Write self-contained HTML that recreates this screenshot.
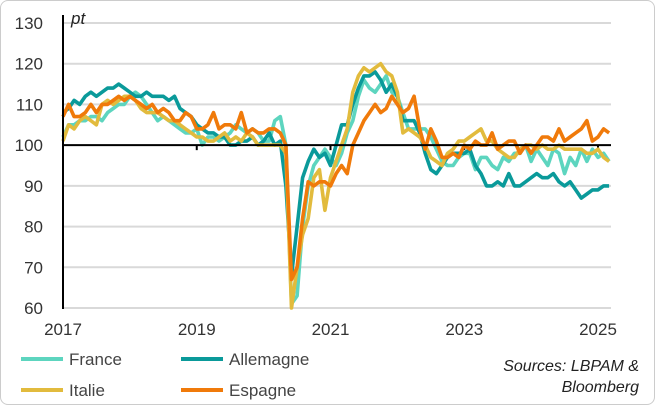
<!DOCTYPE html>
<html><head><meta charset="utf-8"><style>
body{margin:0;background:#fff}
#wrap{position:relative;width:653px;height:403px;border:1px solid #ccc;border-radius:8px;overflow:hidden;font-family:"Liberation Sans",sans-serif}
svg text{font-family:"Liberation Sans",sans-serif}
</style></head><body>
<div id="wrap">
<svg id="chart" width="655" height="405"></svg>
</div>
<script>
const yTicks=[60,70,80,90,100,110,120,130];
const xTickLabels=["2017","2019","2021","2023","2025"];
const france=[102,105,105,106,106,107,107,106,108,109,110,110,
112,113,112,110,108,106,107,106,105,104,103,103,
104,100,102,102,101,102,103,105,104,103,104,103,
101,101,106,107,100,61,63,80,90,95,97,99,
97,95,98,103,106,112,116,114,113,115,117,113,
112,108,104,104,104,104,102,99,96,95,95,97,
98,98,94,97,97,95,94,97,96,98,98,100,
96,99,97,95,99,98,93,97,95,99,96,99,
97,98,96];
const allemagne=[108,109,111,110,112,113,112,113,114,114,115,114,
113,112,112,113,112,112,112,111,112,109,108,107,
105,104,103,103,102,102,100,100,101,101,102,100,
101,103,100,101,90,68,80,92,96,99,97,98,
95,100,105,105,110,114,117,117,118,116,113,115,
112,106,106,106,103,98,94,93,95,97,98,98,
98,99,95,93,90,90,91,90,93,90,90,91,
92,93,92,92,93,91,90,91,89,87,88,89,
89,90,90];
const italie=[101,105,104,106,107,106,105,110,111,110,111,112,
112,111,109,108,108,108,107,106,106,105,104,103,
102,102,101,101,102,103,101,102,101,103,102,100,
100,100,100,100,98,60,70,78,82,92,94,84,
92,96,100,104,113,117,119,118,119,120,118,117,
113,103,104,103,102,100,97,96,95,98,99,101,
101,102,103,104,101,101,99,98,97,97,99,100,
100,99,100,99,99,100,99,99,99,99,98,98,
99,97,96];
const espagne=[107,110,107,107,108,110,108,110,110,111,112,111,
112,111,110,109,110,108,109,108,106,106,108,107,
104,104,105,108,104,105,105,104,108,103,104,103,
103,104,104,103,100,67,70,82,91,90,91,91,
90,93,95,93,100,103,106,108,110,108,109,112,
110,108,109,112,104,99,104,101,97,97,98,97,
100,99,101,100,100,103,99,100,101,101,98,100,
98,100,102,102,101,104,101,102,103,104,106,101,
102,104,103];
const NS="http://www.w3.org/2000/svg";
const svg=document.getElementById('chart');
const X0=62,PXM=535/96,Y60=307,Y130=22;
const xs=i=>X0+i*PXM;
const ys=v=>Y60-(v-60)*(Y60-Y130)/70;
function mk(t,a){const e=document.createElementNS(NS,t);for(const k in a)e.setAttribute(k,a[k]);svg.appendChild(e);return e;}
yTicks.forEach(v=>{
 if(v!==100){const g=mk('line',{x1:X0,x2:610,y1:ys(v),y2:ys(v),stroke:'#d9d9d9','stroke-width':2});
 
 }
 const t=mk('text',{x:42,y:ys(v)+6,'text-anchor':'end','font-size':17,fill:'#333'});t.textContent=v;
 
 
});
xTickLabels.forEach((l,i)=>{
 const x=xs(i*24);
 const t=mk('text',{x:x,y:334,'text-anchor':'middle','font-size':17,fill:'#333'});t.textContent=l;
 
 
 if(i>0){const tk=mk('line',{x1:x,x2:x,y1:ys(100),y2:ys(100)+5,stroke:'#000','stroke-width':2});
 
 }
});
const series=[[france,'#5dd5bf','france-line'],[allemagne,'#0a9a9a','allemagne-line'],[italie,'#e2bb3d','italie-line'],[espagne,'#f07a0a','espagne-line']];
series.forEach(([d,c,n])=>{
 const p=mk('polyline',{points:d.map((v,i)=>xs(i).toFixed(1)+','+ys(v).toFixed(1)).join(' '),fill:'none',stroke:c,'stroke-width':3.6,'stroke-linejoin':'round'});
 
 
});
const zl=mk('line',{x1:X0,x2:610,y1:ys(100),y2:ys(100),stroke:'#000','stroke-width':2});


const ax=mk('line',{x1:X0,x2:X0,y1:14,y2:308,stroke:'#000','stroke-width':2});


const pt=mk('text',{x:70,y:23,'font-size':17,'font-style':'italic',fill:'#222'});pt.textContent='pt';


const leg=[['France','#5dd5bf',20,358],['Allemagne','#0a9a9a',180,358],['Italie','#e2bb3d',20,389],['Espagne','#f07a0a',180,389]];
leg.forEach(([l,c,x,y])=>{
 const s=mk('line',{x1:x,x2:x+42,y1:y,y2:y,stroke:c,'stroke-width':4});
 
 
 const t=mk('text',{x:x+48,y:y+6,'font-size':17,fill:'#444'});t.textContent=l;
 
 
});
[['Sources: LBPAM &',370],['Bloomberg',391]].forEach(([l,y],i)=>{
 const t=mk('text',{x:638,y:y,'text-anchor':'end','font-size':16,'font-style':'italic',fill:'#222'});t.textContent=l;
 
 
});
</script>
</body></html>
